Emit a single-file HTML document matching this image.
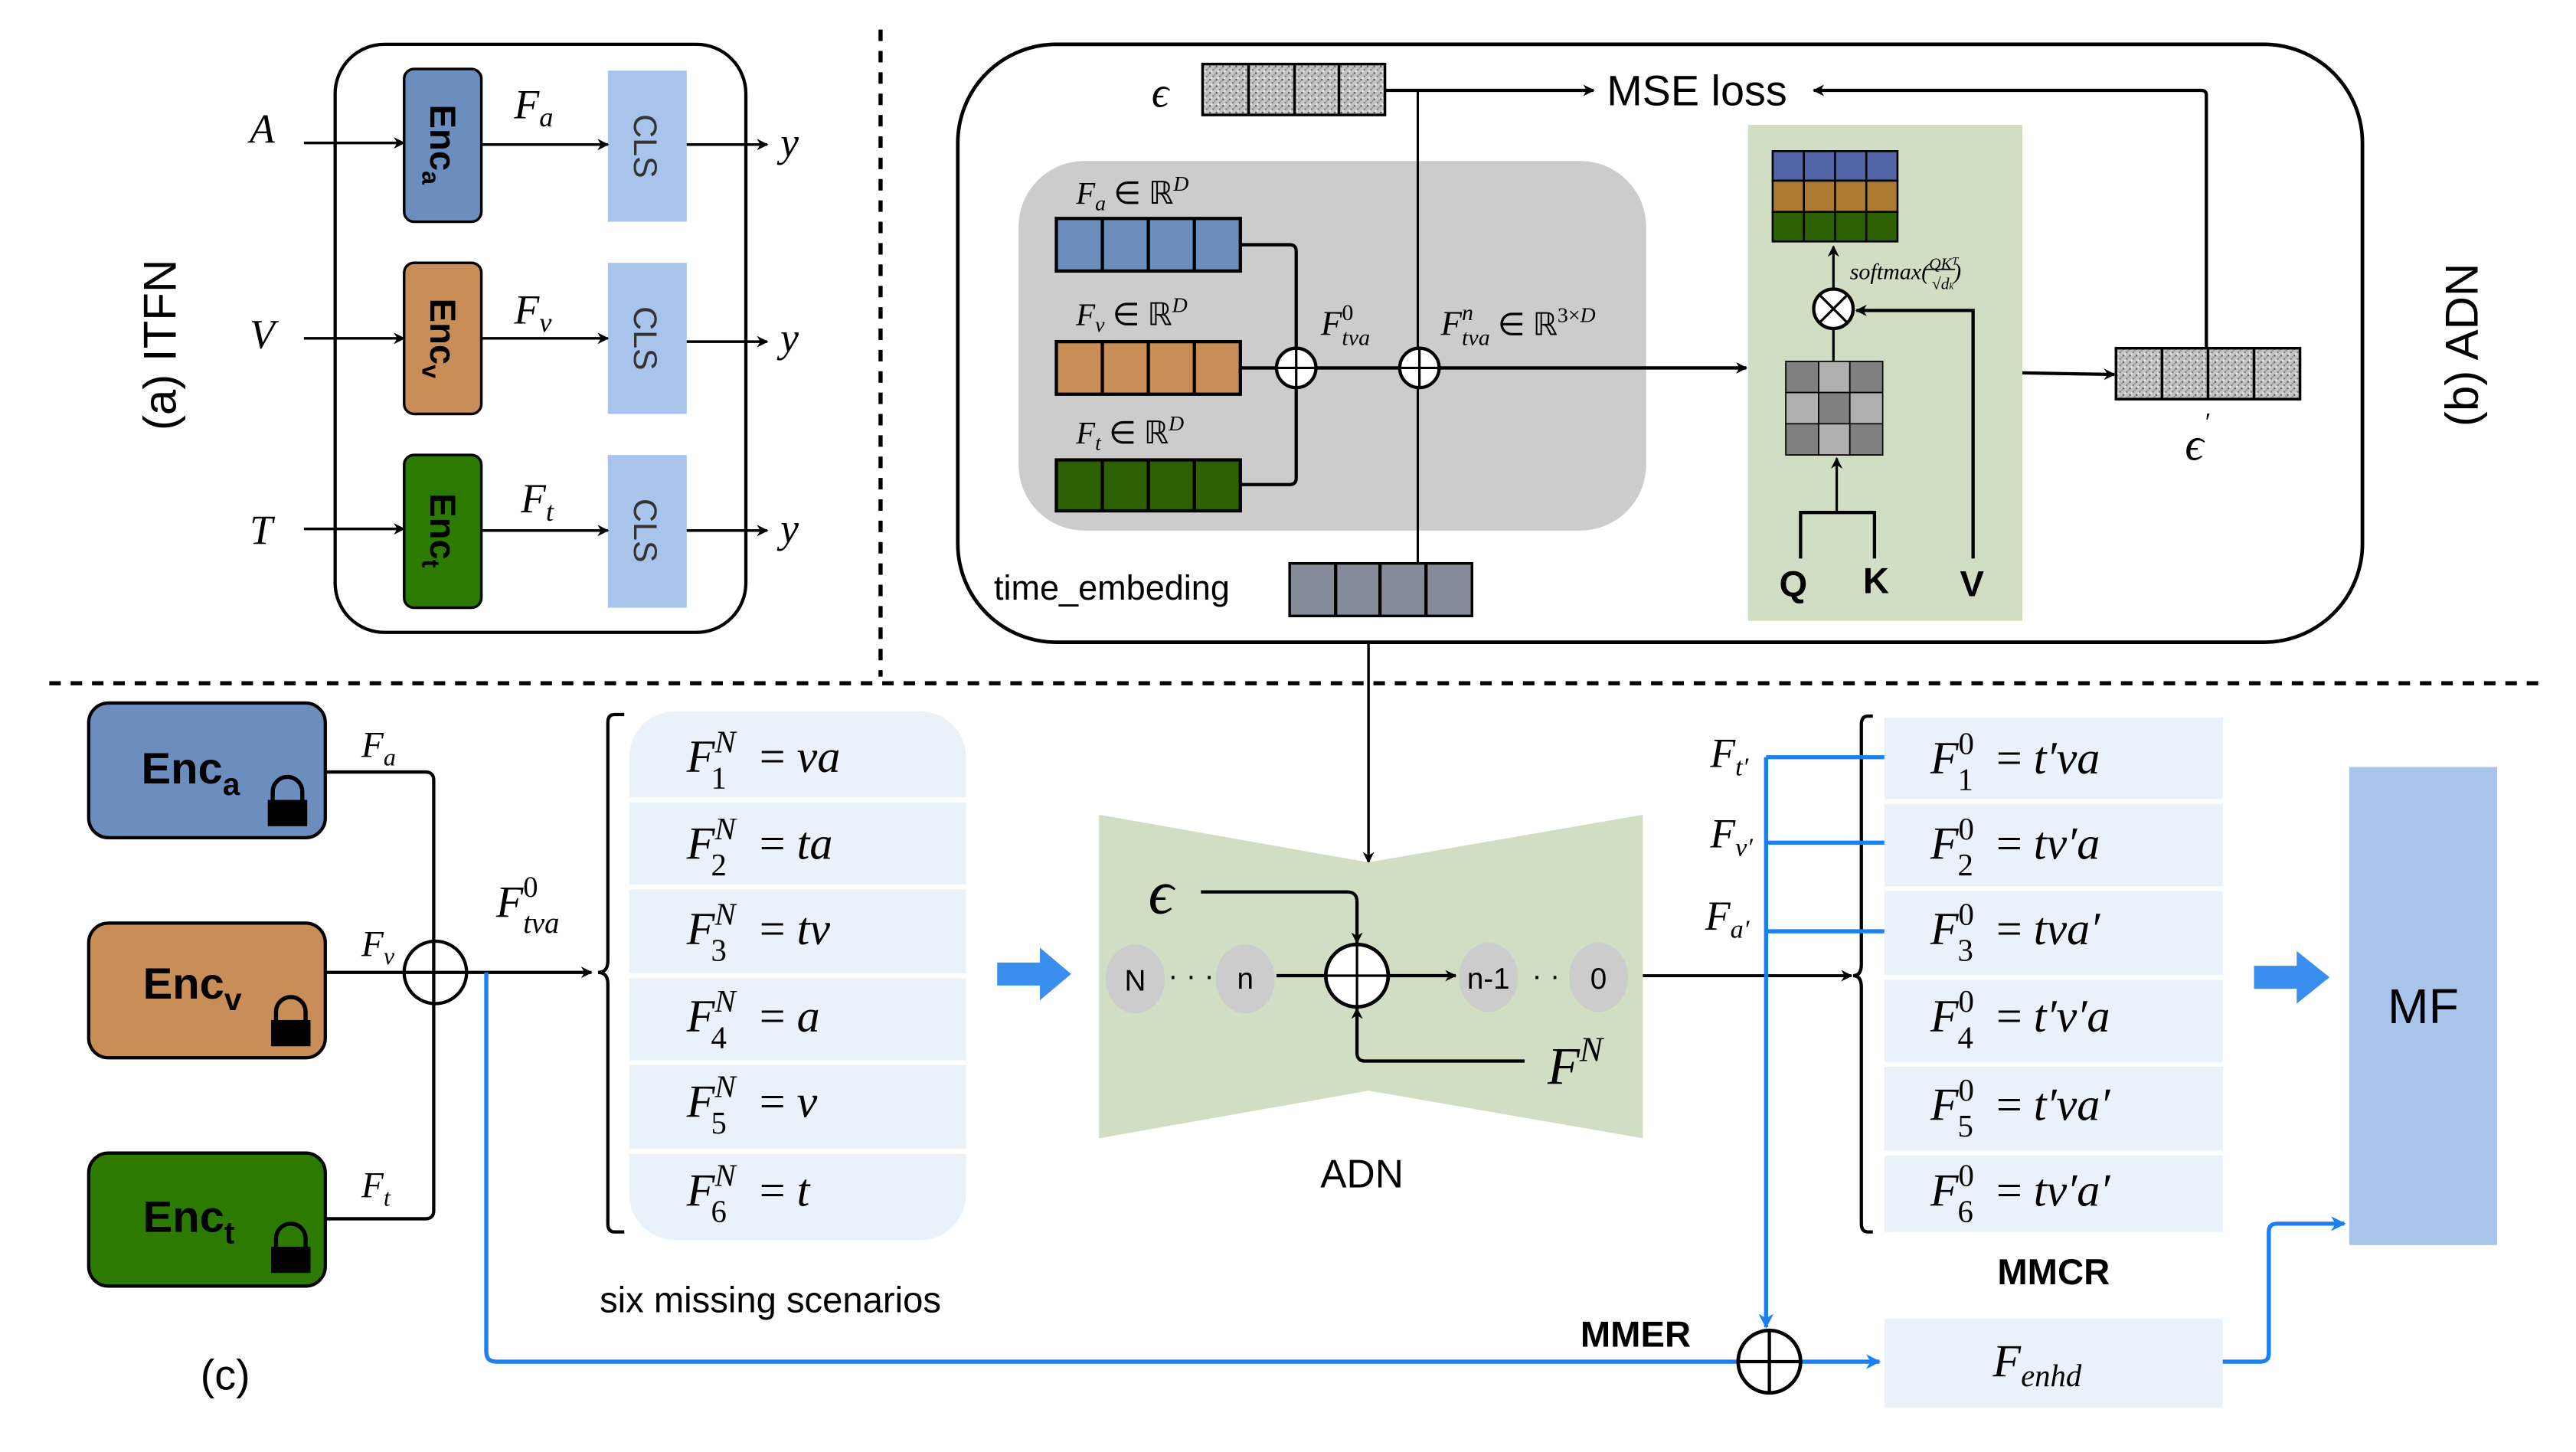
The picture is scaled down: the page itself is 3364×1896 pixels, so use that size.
<!DOCTYPE html>
<html><head><meta charset="utf-8"><style>html,body{margin:0;padding:0;background:#fff}svg{display:block}
.m{font-family:"Liberation Serif",serif;font-style:italic}
.s{font-family:"Liberation Sans",sans-serif}
</style></head><body>
<svg width="3364" height="1896" viewBox="0 0 1568 884" preserveAspectRatio="none" xmlns="http://www.w3.org/2000/svg">
<defs>
<marker id="a" viewBox="0 0 10 10" refX="9" refY="5" markerWidth="7" markerHeight="7" orient="auto-start-reverse" markerUnits="userSpaceOnUse"><path d="M0,0 L10,5 L0,10 L3,5z" fill="#000"/></marker>
<marker id="ab" viewBox="0 0 10 10" refX="9" refY="5" markerWidth="9" markerHeight="9" orient="auto" markerUnits="userSpaceOnUse"><path d="M0,0 L10,5 L0,10 L3,5z" fill="#1a7ff0"/></marker>
<pattern id="nz" width="4" height="4" patternUnits="userSpaceOnUse"><rect width="4" height="4" fill="#c4c4c4"/><rect x="0" y="0" width="1" height="1" fill="#555"/><rect x="2" y="2" width="1" height="1" fill="#777"/><rect x="3" y="1" width="1" height="1" fill="#999"/><rect x="1" y="3" width="1" height="1" fill="#eee"/></pattern>
</defs>
<line x1="536" y1="18" x2="536" y2="412" stroke="#000" stroke-width="2.5" stroke-dasharray="7,6"/>
<line x1="30" y1="416" x2="1548" y2="416" stroke="#000" stroke-width="2.5" stroke-dasharray="7,6"/>

<!-- (a) ITFN -->
<rect x="204" y="27" width="250" height="358" rx="30" fill="none" stroke="#000" stroke-width="2"/>
<text class="s" font-size="28" transform="translate(107,210) rotate(-90)" text-anchor="middle">(a)  ITFN</text>
<g stroke="#000" stroke-width="1.6">
<rect x="246" y="42" width="47" height="93" rx="6" fill="#6c8ebf"/>
<rect x="246" y="160" width="47" height="92" rx="6" fill="#c98e58"/>
<rect x="246" y="277" width="47" height="93" rx="6" fill="#2d7a00"/>
</g>
<g fill="#a9c4eb"><rect x="370" y="43" width="48" height="92"/><rect x="370" y="160" width="48" height="92"/><rect x="370" y="277" width="48" height="93"/></g>
<g class="s" font-size="22" font-weight="bold">
<text transform="translate(262,88) rotate(90)" text-anchor="middle">Enc<tspan font-size="15" dy="5">a</tspan></text>
<text transform="translate(262,206) rotate(90)" text-anchor="middle">Enc<tspan font-size="15" dy="5">v</tspan></text>
<text transform="translate(262,323) rotate(90)" text-anchor="middle">Enc<tspan font-size="15" dy="5">t</tspan></text>
</g>
<g class="s" font-size="20" fill="#333">
<text transform="translate(386,89) rotate(90)" text-anchor="middle">CLS</text>
<text transform="translate(386,206) rotate(90)" text-anchor="middle">CLS</text>
<text transform="translate(386,323) rotate(90)" text-anchor="middle">CLS</text>
</g>
<g stroke="#000" stroke-width="1.6" marker-end="url(#a)">
<line x1="185" y1="87" x2="246" y2="87"/><line x1="293" y1="88" x2="370" y2="88"/><line x1="418" y1="88" x2="467" y2="88"/>
<line x1="185" y1="206" x2="246" y2="206"/><line x1="293" y1="206" x2="370" y2="206"/><line x1="418" y1="208" x2="467" y2="208"/>
<line x1="185" y1="322" x2="246" y2="322"/><line x1="293" y1="323" x2="370" y2="323"/><line x1="418" y1="323" x2="467" y2="323"/>
</g>
<g class="m" font-size="25">
<text x="152" y="87">A</text><text x="152" y="212">V</text><text x="152" y="331">T</text>
<text x="475" y="95">y</text><text x="475" y="214">y</text><text x="475" y="330">y</text>
<text x="313" y="72">F<tspan font-size="17" dy="5">a</tspan></text>
<text x="313" y="197">F<tspan font-size="17" dy="5">v</tspan></text>
<text x="317" y="312">F<tspan font-size="17" dy="5">t</tspan></text>
</g>

<!-- (b) ADN -->
<rect x="583" y="27" width="855" height="364" rx="60" fill="none" stroke="#000" stroke-width="2.2"/>
<text class="s" font-size="28" transform="translate(1508,210) rotate(-90)" text-anchor="middle">(b)  ADN</text>
<rect x="620" y="98" width="382" height="225" rx="40" fill="#cccccc"/>
<rect x="1064" y="76" width="167" height="302" fill="#d0dfc4"/>
<text class="m" font-size="26" x="701" y="65">ϵ</text>
<g stroke="#000" stroke-width="1.6">
<rect x="732" y="39" width="111" height="31" fill="url(#nz)"/>
<line x1="760" y1="39" x2="760" y2="70"/><line x1="788" y1="39" x2="788" y2="70"/><line x1="815" y1="39" x2="815" y2="70"/>
<rect x="1288" y="212" width="112" height="31" fill="url(#nz)"/>
<line x1="1316" y1="212" x2="1316" y2="243"/><line x1="1344" y1="212" x2="1344" y2="243"/><line x1="1372" y1="212" x2="1372" y2="243"/>
</g>
<line x1="843" y1="55" x2="970" y2="55" stroke="#000" stroke-width="2" marker-end="url(#a)"/>
<text class="s" font-size="26" x="978" y="64">MSE loss</text>
<path d="M1343,212 V58 Q1343,55 1340,55 H1104" fill="none" stroke="#000" stroke-width="2" marker-end="url(#a)"/>
<text class="m" font-size="28" x="1330" y="280">ϵ<tspan font-size="16" dy="-18">′</tspan></text>
<line x1="863" y1="55" x2="863" y2="343" stroke="#000" stroke-width="1.4"/>
<g stroke="#000" stroke-width="2">
<rect x="643" y="133" width="112" height="32" fill="#6c8ebf"/><line x1="671" y1="133" x2="671" y2="165"/><line x1="699" y1="133" x2="699" y2="165"/><line x1="727" y1="133" x2="727" y2="165"/>
<rect x="643" y="208" width="112" height="32" fill="#c98e58"/><line x1="671" y1="208" x2="671" y2="240"/><line x1="699" y1="208" x2="699" y2="240"/><line x1="727" y1="208" x2="727" y2="240"/>
<rect x="643" y="280" width="112" height="31" fill="#2d6000"/><line x1="671" y1="280" x2="671" y2="311"/><line x1="699" y1="280" x2="699" y2="311"/><line x1="727" y1="280" x2="727" y2="311"/>
<rect x="785" y="343" width="111" height="32" fill="#858c99" stroke-width="1.6"/><line x1="813" y1="343" x2="813" y2="375"/><line x1="840" y1="343" x2="840" y2="375"/><line x1="868" y1="343" x2="868" y2="375"/>
</g>
<path d="M755,149 H785 Q789,149 789,153 V291 Q789,295 785,295 H755" fill="none" stroke="#000" stroke-width="2"/>
<line x1="755" y1="224" x2="1063" y2="224" stroke="#000" stroke-width="2" marker-end="url(#a)"/>
<g fill="#fff" stroke="#000" stroke-width="2"><circle cx="789" cy="224" r="12"/><circle cx="864" cy="224" r="12"/></g>
<g stroke="#000" stroke-width="1.5"><line x1="777" y1="224" x2="801" y2="224"/><line x1="789" y1="212" x2="789" y2="236"/><line x1="852" y1="224" x2="876" y2="224"/><line x1="864" y1="212" x2="864" y2="236"/></g>
<g class="m" font-size="19">
<text x="655" y="124">F<tspan font-size="13" dy="4">a</tspan><tspan dy="-4" font-style="normal"> ∈ ℝ</tspan><tspan font-size="13" dy="-8">D</tspan></text>
<text x="655" y="198">F<tspan font-size="13" dy="4">v</tspan><tspan dy="-4" font-style="normal"> ∈ ℝ</tspan><tspan font-size="13" dy="-8">D</tspan></text>
<text x="655" y="270">F<tspan font-size="13" dy="4">t</tspan><tspan dy="-4" font-style="normal"> ∈ ℝ</tspan><tspan font-size="13" dy="-8">D</tspan></text>
<text x="804" y="204" font-size="21">F<tspan font-size="14" font-style="normal" dy="-9">0</tspan><tspan font-size="14" dx="-7" dy="15">tva</tspan></text>
<text x="877" y="204" font-size="21">F<tspan font-size="14" dy="-9">n</tspan><tspan font-size="14" dx="-7" dy="15">tva</tspan><tspan font-size="19" dy="-6" font-style="normal"> ∈ ℝ</tspan><tspan font-size="13" dy="-8" font-style="normal">3×</tspan><tspan font-size="13">D</tspan></text>
</g>
<text class="s" font-size="21" x="605" y="365">time_embeding</text>
<g stroke="#000" stroke-width="1.2">
<rect x="1079" y="92" width="76" height="18" fill="#5263a6"/><rect x="1079" y="110" width="76" height="19" fill="#ad7a32"/><rect x="1079" y="129" width="76" height="18" fill="#2d6000"/>
<line x1="1098" y1="92" x2="1098" y2="147"/><line x1="1117" y1="92" x2="1117" y2="147"/><line x1="1136" y1="92" x2="1136" y2="147"/>
</g>
<g stroke="#000" stroke-width="0.8">
<rect x="1087" y="220" width="20" height="19" fill="#808080"/><rect x="1107" y="220" width="19" height="19" fill="#b0b0b0"/><rect x="1126" y="220" width="20" height="19" fill="#808080"/>
<rect x="1087" y="239" width="20" height="19" fill="#b0b0b0"/><rect x="1107" y="239" width="19" height="19" fill="#808080"/><rect x="1126" y="239" width="20" height="19" fill="#b0b0b0"/>
<rect x="1087" y="258" width="20" height="19" fill="#808080"/><rect x="1107" y="258" width="19" height="19" fill="#b0b0b0"/><rect x="1126" y="258" width="20" height="19" fill="#808080"/>
</g>
<line x1="1116" y1="220" x2="1116" y2="200" stroke="#000" stroke-width="1.5"/>
<line x1="1116" y1="176" x2="1116" y2="150" stroke="#000" stroke-width="1.5" marker-end="url(#a)"/>
<circle cx="1116" cy="188" r="12" fill="#fff" stroke="#000" stroke-width="2"/>
<g stroke="#000" stroke-width="1.5"><line x1="1108" y1="180" x2="1124" y2="196"/><line x1="1124" y1="180" x2="1108" y2="196"/></g>
<text class="m" font-size="14" x="1126" y="170">softmax(<tspan font-size="10" dy="-6">QK</tspan><tspan font-size="7" dy="-3">T</tspan><tspan font-size="10" dx="-16" dy="15">√d</tspan><tspan font-size="6">k</tspan><tspan dy="-6">)</tspan></text>
<line x1="1171" y1="164" x2="1190" y2="164" stroke="#000" stroke-width="0.8"/>
<path d="M1096,340 V312 H1141 V340" fill="none" stroke="#000" stroke-width="2"/>
<line x1="1118" y1="312" x2="1118" y2="279" stroke="#000" stroke-width="1.5" marker-end="url(#a)"/>
<path d="M1201,340 V189 H1130" fill="none" stroke="#000" stroke-width="2" marker-end="url(#a)"/>
<g class="s" font-size="22" font-weight="bold"><text x="1083" y="363">Q</text><text x="1134" y="361">K</text><text x="1193" y="363">V</text></g>
<line x1="1231" y1="227" x2="1287" y2="228" stroke="#000" stroke-width="2" marker-end="url(#a)"/>
<line x1="833" y1="391" x2="833" y2="525" stroke="#000" stroke-width="1.6" marker-end="url(#a)"/>

<!-- (c) -->
<g stroke="#000" stroke-width="2">
<rect x="54" y="428" width="144" height="82" rx="12" fill="#6c8ebf"/>
<rect x="54" y="562" width="144" height="82" rx="12" fill="#c98e58"/>
<rect x="54" y="702" width="144" height="81" rx="12" fill="#2d7a00"/>
</g>
<g class="s" font-size="27" font-weight="bold">
<text x="86" y="477">Enc<tspan font-size="19" dy="7">a</tspan></text>
<text x="87" y="608">Enc<tspan font-size="19" dy="7">v</tspan></text>
<text x="87" y="750">Enc<tspan font-size="19" dy="7">t</tspan></text>
</g>
<g fill="#000">
<path d="M166,488 V482 a9,9 0 0 1 18,0 V488" fill="none" stroke="#000" stroke-width="2.5"/><rect x="163" y="487" width="24" height="16"/>
<path d="M168,622 V616 a9,9 0 0 1 18,0 V622" fill="none" stroke="#000" stroke-width="2.5"/><rect x="165" y="621" width="24" height="16"/>
<path d="M168,760 V754 a9,9 0 0 1 18,0 V760" fill="none" stroke="#000" stroke-width="2.5"/><rect x="165" y="759" width="24" height="16"/>
</g>
<path d="M198,470 H259 Q264,470 264,475 V737 Q264,742 259,742 H198" fill="none" stroke="#000" stroke-width="2"/>
<line x1="198" y1="592" x2="360" y2="592" stroke="#000" stroke-width="2" marker-end="url(#a)"/>
<circle cx="265" cy="592" r="19" fill="none" stroke="#000" stroke-width="2"/>
<path d="M296,592 V823 Q296,829 302,829 H1058" fill="none" stroke="#1a7ff0" stroke-width="2.5"/>
<line x1="1096" y1="829" x2="1144" y2="829" stroke="#1a7ff0" stroke-width="2.5" marker-end="url(#ab)"/>
<circle cx="1077" cy="829" r="19" fill="#fff" stroke="#000" stroke-width="2.2"/>
<g stroke="#000" stroke-width="2"><line x1="1058" y1="829" x2="1096" y2="829"/><line x1="1077" y1="810" x2="1077" y2="848"/></g>
<text class="s" font-size="22" font-weight="bold" x="962" y="820">MMER</text>
<g class="m" font-size="22">
<text x="220" y="461">F<tspan font-size="15" dy="5">a</tspan></text>
<text x="220" y="582">F<tspan font-size="15" dy="5">v</tspan></text>
<text x="220" y="729">F<tspan font-size="15" dy="5">t</tspan></text>
<text x="302" y="558" font-size="27">F<tspan font-size="18" font-style="normal" dy="-12">0</tspan><tspan font-size="18" dx="-9" dy="22">tva</tspan></text>
</g>
<path d="M380,435 H374 Q370,435 370,440 V585 Q370,592 364,592 Q370,592 370,599 V745 Q370,750 374,750 H380" fill="none" stroke="#000" stroke-width="2"/>
<rect x="383" y="433" width="205" height="322" rx="28" fill="#e9f1fa"/>
<g stroke="#fff" stroke-width="3"><line x1="383" y1="487" x2="588" y2="487"/><line x1="383" y1="540" x2="588" y2="540"/><line x1="383" y1="594" x2="588" y2="594"/><line x1="383" y1="647" x2="588" y2="647"/><line x1="383" y1="701" x2="588" y2="701"/></g>
<g class="m" font-size="28">
<text x="418" y="470">F<tspan font-size="19" dy="-12">N</tspan><tspan font-size="19" font-style="normal" dx="-15" dy="22">1</tspan><tspan dx="20" dy="-10" font-style="normal">= </tspan>va</text>
<text x="418" y="523">F<tspan font-size="19" dy="-12">N</tspan><tspan font-size="19" font-style="normal" dx="-15" dy="22">2</tspan><tspan dx="20" dy="-10" font-style="normal">= </tspan>ta</text>
<text x="418" y="575">F<tspan font-size="19" dy="-12">N</tspan><tspan font-size="19" font-style="normal" dx="-15" dy="22">3</tspan><tspan dx="20" dy="-10" font-style="normal">= </tspan>tv</text>
<text x="418" y="628">F<tspan font-size="19" dy="-12">N</tspan><tspan font-size="19" font-style="normal" dx="-15" dy="22">4</tspan><tspan dx="20" dy="-10" font-style="normal">= </tspan>a</text>
<text x="418" y="680">F<tspan font-size="19" dy="-12">N</tspan><tspan font-size="19" font-style="normal" dx="-15" dy="22">5</tspan><tspan dx="20" dy="-10" font-style="normal">= </tspan>v</text>
<text x="418" y="734">F<tspan font-size="19" dy="-12">N</tspan><tspan font-size="19" font-style="normal" dx="-15" dy="22">6</tspan><tspan dx="20" dy="-10" font-style="normal">= </tspan>t</text>
</g>
<text class="s" font-size="22" x="365" y="799">six missing scenarios</text>
<text class="s" font-size="26" x="122" y="846">(c)</text>
<path d="M607,586 H633 V577 L652,593 L633,609 V600 H607z" fill="#3a8ef0"/>
<path d="M1372,588 H1398 V579 L1418,595 L1398,611 V602 H1372z" fill="#3a8ef0"/>
<polygon points="669,496 833,525 1000,496 1000,693 833,664 669,693" fill="#d0dfc4"/>
<g fill="#cccccc"><ellipse cx="691" cy="596" rx="18" ry="21"/><ellipse cx="758" cy="596" rx="18" ry="21"/><ellipse cx="906" cy="595" rx="18" ry="21"/><ellipse cx="973" cy="595" rx="18" ry="21"/></g>
<g class="s" font-size="18" text-anchor="middle"><text x="691" y="603">N</text><text x="758" y="602">n</text><text x="906" y="602">n-1</text><text x="973" y="602">0</text>
<text x="725" y="600">· · ·</text><text x="941" y="600">· ·</text></g>
<line x1="777" y1="594" x2="886" y2="594" stroke="#000" stroke-width="2" marker-end="url(#a)"/>
<circle cx="826" cy="594" r="19" fill="#fff" stroke="#000" stroke-width="2.2"/>
<g stroke="#000" stroke-width="1.5"><line x1="807" y1="594" x2="845" y2="594"/><line x1="826" y1="575" x2="826" y2="613"/></g>
<path d="M731,543 H820 Q826,543 826,549 V574" fill="none" stroke="#000" stroke-width="2" marker-end="url(#a)"/>
<path d="M928,646 H831 Q826,646 826,641 V614" fill="none" stroke="#000" stroke-width="2" marker-end="url(#a)"/>
<text class="m" font-size="38" x="699" y="556">ϵ</text>
<text class="m" font-size="32" x="942" y="660">F<tspan font-size="21" dy="-14">N</tspan></text>
<text class="s" font-size="24" x="829" y="723" text-anchor="middle">ADN</text>
<line x1="1000" y1="594" x2="1127" y2="594" stroke="#000" stroke-width="1.8" marker-end="url(#a)"/>
<path d="M1140,436 H1137 Q1133,436 1133,441 V587 Q1133,594 1128,594 Q1133,594 1133,601 V745 Q1133,750 1137,750 H1140" fill="none" stroke="#000" stroke-width="2"/>
<rect x="1147" y="437" width="206" height="313" fill="#e9f1fa"/>
<g stroke="#fff" stroke-width="3"><line x1="1147" y1="488" x2="1353" y2="488"/><line x1="1147" y1="541" x2="1353" y2="541"/><line x1="1147" y1="595" x2="1353" y2="595"/><line x1="1147" y1="648" x2="1353" y2="648"/><line x1="1147" y1="702" x2="1353" y2="702"/></g>
<g stroke="#1a7ff0" stroke-width="2.5" fill="none"><line x1="1075" y1="461" x2="1147" y2="461"/><line x1="1075" y1="513" x2="1147" y2="513"/><line x1="1075" y1="567" x2="1147" y2="567"/></g>
<line x1="1075" y1="461" x2="1075" y2="808" stroke="#1a7ff0" stroke-width="2.5" marker-end="url(#ab)"/>
<g class="m" font-size="25">
<text x="1041" y="467">F<tspan font-size="16" dy="5">t′</tspan></text>
<text x="1041" y="516">F<tspan font-size="16" dy="5">v′</tspan></text>
<text x="1038" y="566">F<tspan font-size="16" dy="5">a′</tspan></text>
</g>
<g class="m" font-size="28">
<text x="1175" y="471">F<tspan font-size="19" font-style="normal" dy="-12">0</tspan><tspan font-size="19" font-style="normal" dx="-10" dy="22">1</tspan><tspan dx="14" dy="-10" font-style="normal">= </tspan>t′va</text>
<text x="1175" y="523">F<tspan font-size="19" font-style="normal" dy="-12">0</tspan><tspan font-size="19" font-style="normal" dx="-10" dy="22">2</tspan><tspan dx="14" dy="-10" font-style="normal">= </tspan>tv′a</text>
<text x="1175" y="575">F<tspan font-size="19" font-style="normal" dy="-12">0</tspan><tspan font-size="19" font-style="normal" dx="-10" dy="22">3</tspan><tspan dx="14" dy="-10" font-style="normal">= </tspan>tva′</text>
<text x="1175" y="628">F<tspan font-size="19" font-style="normal" dy="-12">0</tspan><tspan font-size="19" font-style="normal" dx="-10" dy="22">4</tspan><tspan dx="14" dy="-10" font-style="normal">= </tspan>t′v′a</text>
<text x="1175" y="682">F<tspan font-size="19" font-style="normal" dy="-12">0</tspan><tspan font-size="19" font-style="normal" dx="-10" dy="22">5</tspan><tspan dx="14" dy="-10" font-style="normal">= </tspan>t′va′</text>
<text x="1175" y="734">F<tspan font-size="19" font-style="normal" dy="-12">0</tspan><tspan font-size="19" font-style="normal" dx="-10" dy="22">6</tspan><tspan dx="14" dy="-10" font-style="normal">= </tspan>tv′a′</text>
</g>
<text class="s" font-size="22" font-weight="bold" x="1250" y="782" text-anchor="middle">MMCR</text>
<rect x="1147" y="803" width="206" height="54" fill="#e9f1fa"/>
<text class="m" font-size="28" x="1213" y="838">F<tspan font-size="19" dy="6">enhd</tspan></text>
<path d="M1353,829 H1376 Q1381,829 1381,824 V750 Q1381,745 1386,745 H1427" fill="none" stroke="#1a7ff0" stroke-width="2.5" marker-end="url(#ab)"/>
<rect x="1430" y="467" width="90" height="291" fill="#a9c4eb"/>
<text class="s" font-size="30" x="1475" y="623" text-anchor="middle">MF</text>
</svg>
</body></html>
